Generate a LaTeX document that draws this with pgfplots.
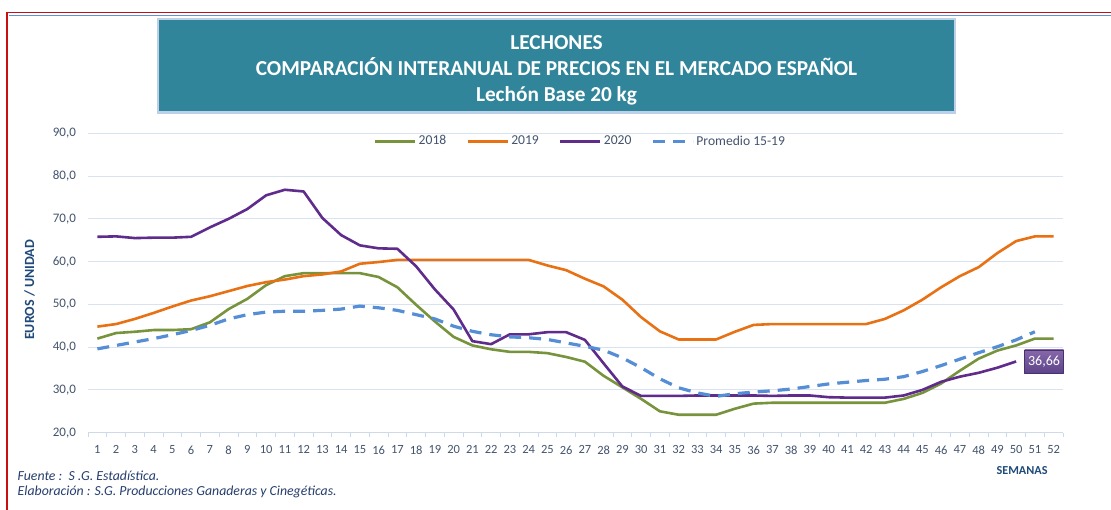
\documentclass[border=0pt]{standalone}
\usepackage{pgfplots}
\pgfplotsset{compat=1.18}
\usepackage{fontspec}
\setmainfont{Carlito}
\definecolor{titlefill}{RGB}{49,133,155}
\definecolor{titleborder}{RGB}{190,208,232}
\definecolor{frameRed}{RGB}{200,16,16}
\definecolor{frameBlue}{RGB}{84,150,214}
\definecolor{gridcol}{RGB}{217,227,240}
\definecolor{axiscol}{RGB}{205,218,234}
\definecolor{tickcol}{RGB}{68,84,110}
\definecolor{labcol}{RGB}{31,74,121}
\definecolor{notecol}{RGB}{38,62,110}
\definecolor{c2018}{RGB}{119,147,60}
\definecolor{c2019}{RGB}{232,113,20}
\definecolor{c2020}{RGB}{96,44,140}
\definecolor{cprom}{RGB}{85,142,213}
\definecolor{boxtop}{RGB}{134,104,170}
\definecolor{boxbot}{RGB}{94,68,138}
\definecolor{boxdraw}{RGB}{70,50,110}

\pgfplotstableread{
w v
1 42.0
2 43.3
3 43.6
4 44.0
5 44.0
6 44.2
7 45.8
8 48.9
9 51.3
10 54.5
11 56.6
12 57.3
13 57.3
14 57.3
15 57.3
16 56.4
17 54.0
18 49.9
19 46.0
20 42.4
21 40.4
22 39.5
23 38.9
24 38.9
25 38.6
26 37.7
27 36.6
28 33.3
29 30.6
30 27.9
31 25.0
32 24.2
33 24.2
34 24.2
35 25.6
36 26.8
37 27.0
38 27.0
39 27.0
40 27.0
41 27.0
42 27.0
43 27.0
44 27.9
45 29.3
46 31.5
47 34.5
48 37.3
49 39.2
50 40.4
51 42.0
52 42.0
}\tabA

\pgfplotstableread{
w v
1 44.8
2 45.4
3 46.6
4 48.0
5 49.5
6 50.9
7 51.9
8 53.1
9 54.3
10 55.2
11 55.8
12 56.6
13 57.0
14 57.7
15 59.5
16 59.9
17 60.4
18 60.4
19 60.4
20 60.4
21 60.4
22 60.4
23 60.4
24 60.4
25 59.1
26 58.0
27 56.0
28 54.2
29 51.1
30 47.0
31 43.7
32 41.8
33 41.8
34 41.8
35 43.6
36 45.2
37 45.4
38 45.4
39 45.4
40 45.4
41 45.4
42 45.4
43 46.6
44 48.6
45 51.1
46 54.0
47 56.6
48 58.7
49 62.0
50 64.8
51 65.9
52 65.9
}\tabB

\pgfplotstableread{
w v
1 65.8
2 65.9
3 65.5
4 65.6
5 65.6
6 65.8
7 68.0
8 70.0
9 72.3
10 75.5
11 76.8
12 76.4
13 70.2
14 66.2
15 63.8
16 63.1
17 63.0
18 58.9
19 53.5
20 48.8
21 41.4
22 40.7
23 43.0
24 43.0
25 43.5
26 43.5
27 41.7
28 36.2
29 30.8
30 28.6
31 28.6
32 28.6
33 28.7
34 28.7
35 28.7
36 28.7
37 28.6
38 28.7
39 28.7
40 28.3
41 28.2
42 28.2
43 28.2
44 28.7
45 30.0
46 31.9
47 33.1
48 34.0
49 35.2
50 36.66
}\tabC

\pgfplotstableread{
w v
1 39.6
2 40.4
3 41.2
4 42.0
5 42.9
6 43.9
7 45.1
8 46.6
9 47.6
10 48.2
11 48.4
12 48.4
13 48.6
14 48.9
15 49.6
16 49.2
17 48.6
18 47.6
19 46.6
20 44.9
21 43.7
22 42.9
23 42.4
24 42.2
25 41.8
26 41.0
27 40.2
28 39.3
29 37.5
30 35.2
31 32.6
32 30.5
33 29.3
34 28.5
35 29.1
36 29.5
37 29.8
38 30.2
39 30.8
40 31.4
41 31.8
42 32.2
43 32.5
44 33.1
45 34.3
46 35.7
47 37.2
48 38.7
49 40.1
50 41.7
51 43.6
}\tabD

\begin{document}
\begin{tikzpicture}
\begin{scope}[x=1pt,y=1pt]
\useasboundingbox (0,0) rectangle (1111,510);
\fill[white] (0,0) rectangle (1111,510);
% frame lines
\draw[frameRed, line width=1.6pt] (7,0) -- (7,497.5) -- (1111,497.5);
\draw[frameBlue, line width=1.2pt] (8.5,494.5) -- (1111,494.5);
% title box
\draw[titleborder, line width=2.2pt, fill=titlefill] (158,397.5) rectangle (955,491);
\node[white, anchor=base, font=\fontsize{21.3}{24}\selectfont\bfseries] at (556.5,460.3) {LECHONES};
\node[white, anchor=base, font=\fontsize{21.3}{24}\selectfont\bfseries] at (556.5,434.3) {COMPARACIÓN INTERANUAL DE PRECIOS EN EL MERCADO ESPAÑOL};
\node[white, anchor=base, font=\fontsize{21.3}{24}\selectfont\bfseries] at (556.5,408.3) {Lechón Base 20 kg};
% footnotes
\node[notecol, anchor=base west, inner sep=0, font=\fontsize{13.8}{16}\selectfont\itshape] at (17.5,29.5) {Fuente :\ \ S .G. Estadística.};
\node[notecol, anchor=base west, inner sep=0, font=\fontsize{13.8}{16}\selectfont\itshape] at (17.5,14.5) {Elaboración : S.G. Producciones Ganaderas y Cinegéticas.};
\end{scope}

\begin{axis}[
  at={(88pt,77.3pt)}, anchor=south west,
  scale only axis, width=975pt, height=299.4pt,
  xmin=0.5, xmax=52.5, ymin=20, ymax=90,
  xtick={1,...,52}, ytick={20,30,...,90},
  minor xtick={0.5,1.5,...,52.5},
  major tick length=0pt, minor tick length=4.5pt, tick align=outside,
  minor tick style={axiscol, line width=1pt},
  axis x line*=bottom, axis y line*=left,
  x axis line style={axiscol, line width=1pt, -},
  y axis line style={draw=none, -},
  ymajorgrids, grid style={gridcol, line width=1pt},
  yticklabel style={font=\fontsize{13}{14}\selectfont, color=tickcol, xshift=-8.6pt,
     /pgf/number format/.cd, fixed, fixed zerofill, precision=1, use comma},
  xticklabel style={font=\fontsize{12.5}{14}\selectfont, color=tickcol, yshift=-9.4pt},
  /pgf/number format/assume math mode=true,
  xlabel={SEMANAS},
  xlabel style={at={(axis description cs:0.958,0)}, anchor=north, inner sep=0pt, yshift=-33.3pt, font=\fontsize{12.2}{14}\selectfont\bfseries, color=labcol},
  ylabel={EUROS / UNIDAD},
  ylabel style={at={(axis description cs:-0.06,0.477)}, anchor=center, font=\fontsize{14}{16}\selectfont\bfseries, color=labcol},
  legend columns=4,
  legend style={at={(axis description cs:0.505,0.974)}, anchor=center, draw=none, fill=none,
     font=\fontsize{13.6}{15}\selectfont, text=tickcol,
     nodes={inner xsep=2pt, inner ysep=2pt},
     /tikz/every even column/.append style={column sep=18pt}},
  legend image code/.code={\draw[#1] (0pt,0pt) -- (40pt,0pt);},
  legend image post style={line width=3pt},
  clip=false,
]
\addplot[c2018, line width=2.6pt, line join=round] table[x=w,y=v] {\tabA};
\addlegendentry{2018}
\addplot[c2019, line width=2.6pt, line join=round] table[x=w,y=v] {\tabB};
\addlegendentry{2019}
\addplot[c2020, line width=2.6pt, line join=round] table[x=w,y=v] {\tabC}
  node[pos=1, anchor=west, xshift=8pt, minimum width=39pt, minimum height=23pt, inner sep=0pt,
       top color=boxtop, bottom color=boxbot, draw=boxdraw, line width=0.8pt,
       text=white, font=\fontsize{14}{16}\selectfont] {36,66};
\addlegendentry{2020}
\addplot[cprom, line width=3.2pt, dash pattern=on 12pt off 8pt] table[x=w,y=v] {\tabD};
\addlegendentry{Promedio 15-19}
\end{axis}
\end{tikzpicture}
\end{document}
